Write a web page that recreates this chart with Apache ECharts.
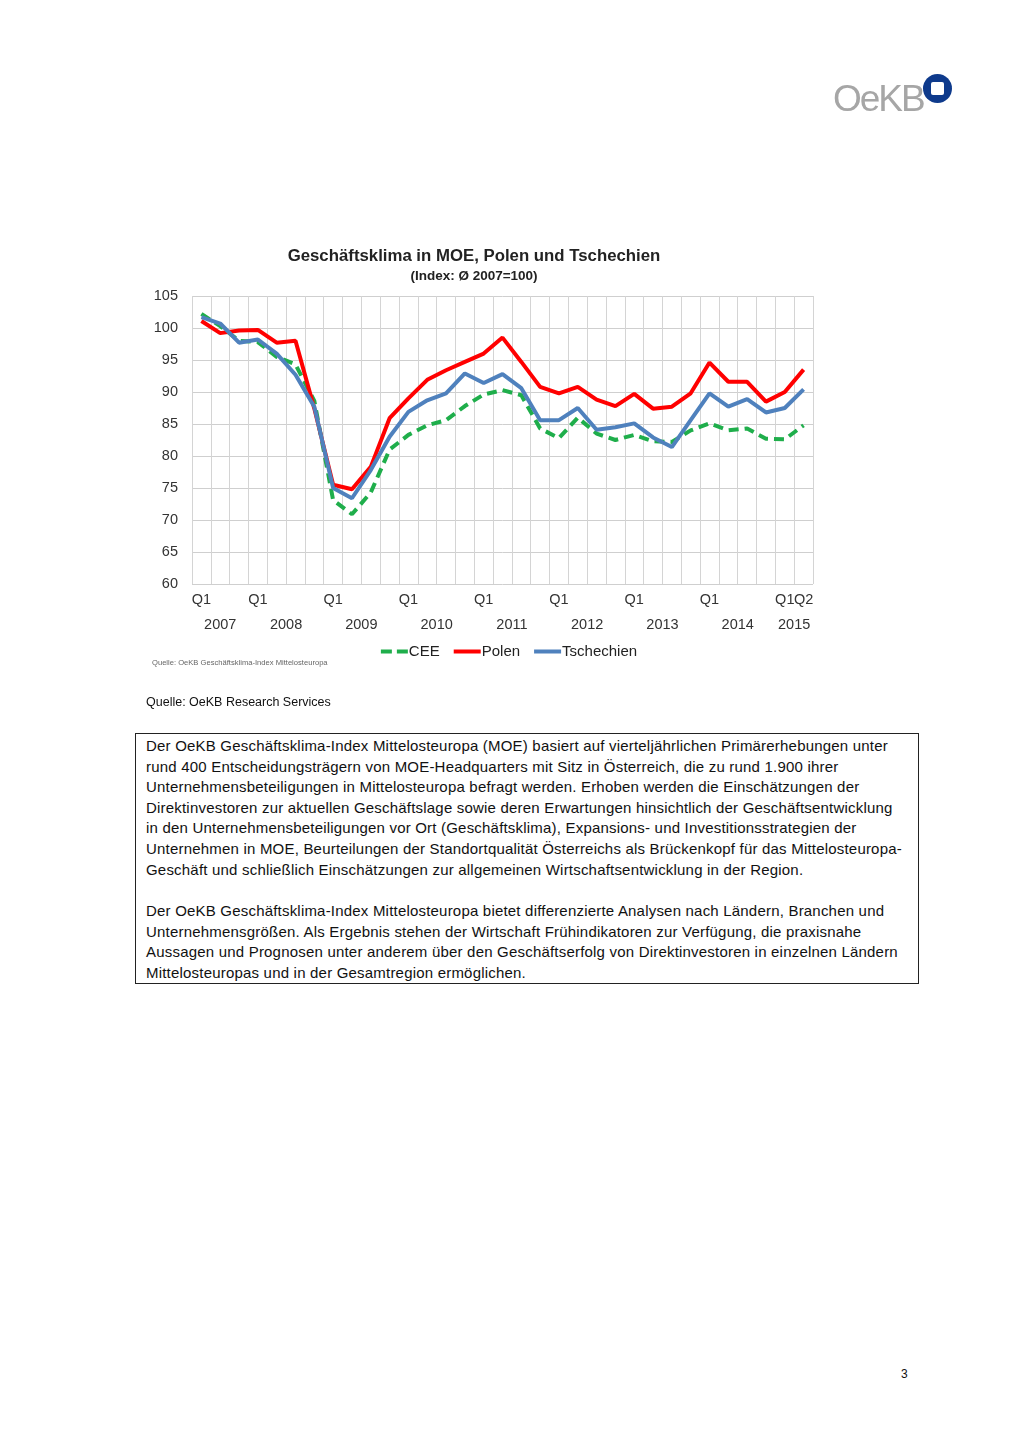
<!DOCTYPE html>
<html>
<head>
<meta charset="utf-8">
<script src="https://cdn.jsdelivr.net/npm/echarts@6/dist/echarts.min.js"></script>
<style>
html,body{margin:0;padding:0;background:#fff;}
#page{position:relative;width:1018px;height:1440px;overflow:hidden;font-family:"Liberation Sans",Arial,sans-serif;color:#111;}
#chart{position:absolute;left:0;top:0;width:1018px;height:700px;}
#logoText{position:absolute;left:833px;top:78px;font-size:37px;color:#a6a6a6;letter-spacing:-2px;font-family:"Liberation Sans",Arial,sans-serif;}
#logoDot{position:absolute;left:923px;top:74px;width:29px;height:29px;border-radius:50%;background:#0e3a8c;}
#logoDot div{position:absolute;left:8px;top:8px;width:13px;height:13px;border-radius:2px;background:#fff;}
#src{position:absolute;left:146px;top:695px;font-size:12.5px;color:#111;}
#box{position:absolute;left:135px;top:733px;width:782px;height:249px;border:1px solid #222;}
#box p{margin:0;position:absolute;left:10px;font-size:15px;letter-spacing:0.2px;line-height:20.6px;color:#111;white-space:nowrap;}
#pnum{position:absolute;left:901px;top:1367px;font-size:12px;color:#111;}
</style>
</head>
<body>
<div id="page">
  <div id="chart"></div>
  <div id="logoText">OeKB</div>
  <div id="logoDot"><div></div></div>
  <div id="src">Quelle: OeKB Research Services</div>
  <div id="box">
    <p style="top:2px">Der OeKB Geschäftsklima-Index Mittelosteuropa (MOE) basiert auf vierteljährlichen Primärerhebungen unter<br>rund 400 Entscheidungsträgern von MOE-Headquarters mit Sitz in Österreich, die zu rund 1.900 ihrer<br>Unternehmensbeteiligungen in Mittelosteuropa befragt werden. Erhoben werden die Einschätzungen der<br>Direktinvestoren zur aktuellen Geschäftslage sowie deren Erwartungen hinsichtlich der Geschäftsentwicklung<br>in den Unternehmensbeteiligungen vor Ort (Geschäftsklima), Expansions- und Investitionsstrategien der<br>Unternehmen in MOE, Beurteilungen der Standortqualität Österreichs als Brückenkopf für das Mittelosteuropa-<br>Geschäft und schließlich Einschätzungen zur allgemeinen Wirtschaftsentwicklung in der Region.</p>
    <p style="top:167px">Der OeKB Geschäftsklima-Index Mittelosteuropa bietet differenzierte Analysen nach Ländern, Branchen und<br>Unternehmensgrößen. Als Ergebnis stehen der Wirtschaft Frühindikatoren zur Verfügung, die praxisnahe<br>Aussagen und Prognosen unter anderem über den Geschäftserfolg von Direktinvestoren in einzelnen Ländern<br>Mittelosteuropas und in der Gesamtregion ermöglichen.</p>
  </div>
  <div id="pnum">3</div>
</div>
<script>
// quarter tick labels (33 survey points: 3 in 2007, then 4 per year, 2 in 2015)
const quarterLabels = ["Q1","","",
  "Q1","","","",
  "Q1","","","",
  "Q1","","","",
  "Q1","","","",
  "Q1","","","",
  "Q1","","","",
  "Q1","","","",
  "Q1","Q2"];
const years = ["2007","2008","2009","2010","2011","2012","2013","2014","2015"];
const pointsPerYear = [3,4,4,4,4,4,4,4,2];
const yTicks = [60,65,70,75,80,85,90,95,100,105];

const cee = [102.2,100.3,98.0,97.8,95.5,94.3,88.6,73.1,70.9,74.3,81.0,83.3,84.8,85.6,87.8,89.6,90.3,89.5,84.3,82.8,86.0,83.5,82.5,83.3,82.3,82.2,84.0,85.1,84.0,84.3,82.7,82.6,84.8];
const polen = [101.1,99.2,99.6,99.7,97.7,98.0,87.4,75.5,74.8,78.3,85.9,89.0,91.9,93.4,94.7,96.0,98.5,94.7,90.8,89.8,90.8,88.8,87.8,89.7,87.4,87.7,89.8,94.6,91.6,91.6,88.5,90.0,93.5];
const tschechien = [101.7,100.7,97.7,98.2,96.0,92.7,87.7,75.0,73.4,77.8,83.0,86.9,88.7,89.8,92.9,91.4,92.8,90.6,85.6,85.6,87.5,84.1,84.5,85.1,82.9,81.4,85.6,89.8,87.7,88.9,86.8,87.5,90.4];

const cats = quarterLabels.map((q,i)=>String(i));
// year label centers (category index)
const yearCenters = [];
let start = 0;
pointsPerYear.forEach(n=>{ yearCenters.push(start + (n-1)/2); start += n; });

const chart = echarts.init(document.getElementById('chart'));
const axisFont = {fontFamily:'Liberation Sans, Arial, sans-serif', fontSize:14.5, color:'#333'};
const solidIcon = 'path://M0,0h27v4h-27z';
const dashIcon = 'path://M0,0h11v4h-11z M16,0h11v4h-11z';
chart.setOption({
  animation:false,
  title:{
    text:'Geschäftsklima in MOE, Polen und Tschechien',
    subtext:'(Index: Ø 2007=100)',
    left:469, top:243, textAlign:'center', itemGap:4,
    textStyle:{fontFamily:'Liberation Sans, Arial, sans-serif',fontWeight:'bold',fontSize:16.8,color:'#222'},
    subtextStyle:{fontFamily:'Liberation Sans, Arial, sans-serif',fontWeight:'bold',fontSize:13.5,color:'#222'}
  },
  legend:{
    bottom: 700-664, left:'center', itemWidth:27, itemHeight:4, itemGap:14,
    textStyle:Object.assign({},axisFont,{fontSize:15,color:'#222',padding:[0,0,0,-4]}),
    data:[{name:'CEE',icon:dashIcon},{name:'Polen',icon:solidIcon},{name:'Tschechien',icon:solidIcon}]
  },
  graphic:[{type:'text',left:152,top:659,style:{text:'Quelle: OeKB Geschäftsklima-Index Mittelosteuropa',fontSize:7.6,fill:'#666',fontFamily:'Liberation Sans, Arial, sans-serif'}}],
  grid:{left:192,right:1018-813,top:296,bottom:700-584,containLabel:false},
  xAxis:[{
    type:'category', data:cats, boundaryGap:true,
    axisLine:{show:false}, axisTick:{show:false},
    axisLabel:Object.assign({},axisFont,{interval:0,margin:8,formatter:(v,i)=>quarterLabels[i]}),
    splitLine:{show:true,interval:0,lineStyle:{color:'#d4d4d4',width:1}}
  },{
    type:'value', min:-0.5, max:quarterLabels.length-0.5, position:'bottom', offset:25,
    axisLine:{show:false}, axisTick:{show:false}, splitLine:{show:false},
    axisLabel:Object.assign({},axisFont,{margin:8,customValues:yearCenters,
      formatter:(v)=>{const k=yearCenters.indexOf(v);return k>=0?years[k]:'';}})
  }],
  yAxis:{
    type:'value', min:yTicks[0], max:yTicks[yTicks.length-1], interval:5,
    axisLine:{show:false}, axisTick:{show:false},
    axisLabel:Object.assign({},axisFont,{margin:14}),
    splitLine:{lineStyle:{color:'#cfcfcf',width:1}}
  },
  series:[
    {name:'CEE',type:'line',data:cee,symbol:'none',color:'#1fae4b',lineStyle:{width:4,type:[10,6],color:'#1fae4b'},z:2},
    {name:'Polen',type:'line',data:polen,symbol:'none',color:'#ff0000',lineStyle:{width:4,color:'#ff0000'},z:3},
    {name:'Tschechien',type:'line',data:tschechien,symbol:'none',color:'#4f81bd',lineStyle:{width:4,color:'#4f81bd'},z:4}
  ]
});
</script>
</body>
</html>
